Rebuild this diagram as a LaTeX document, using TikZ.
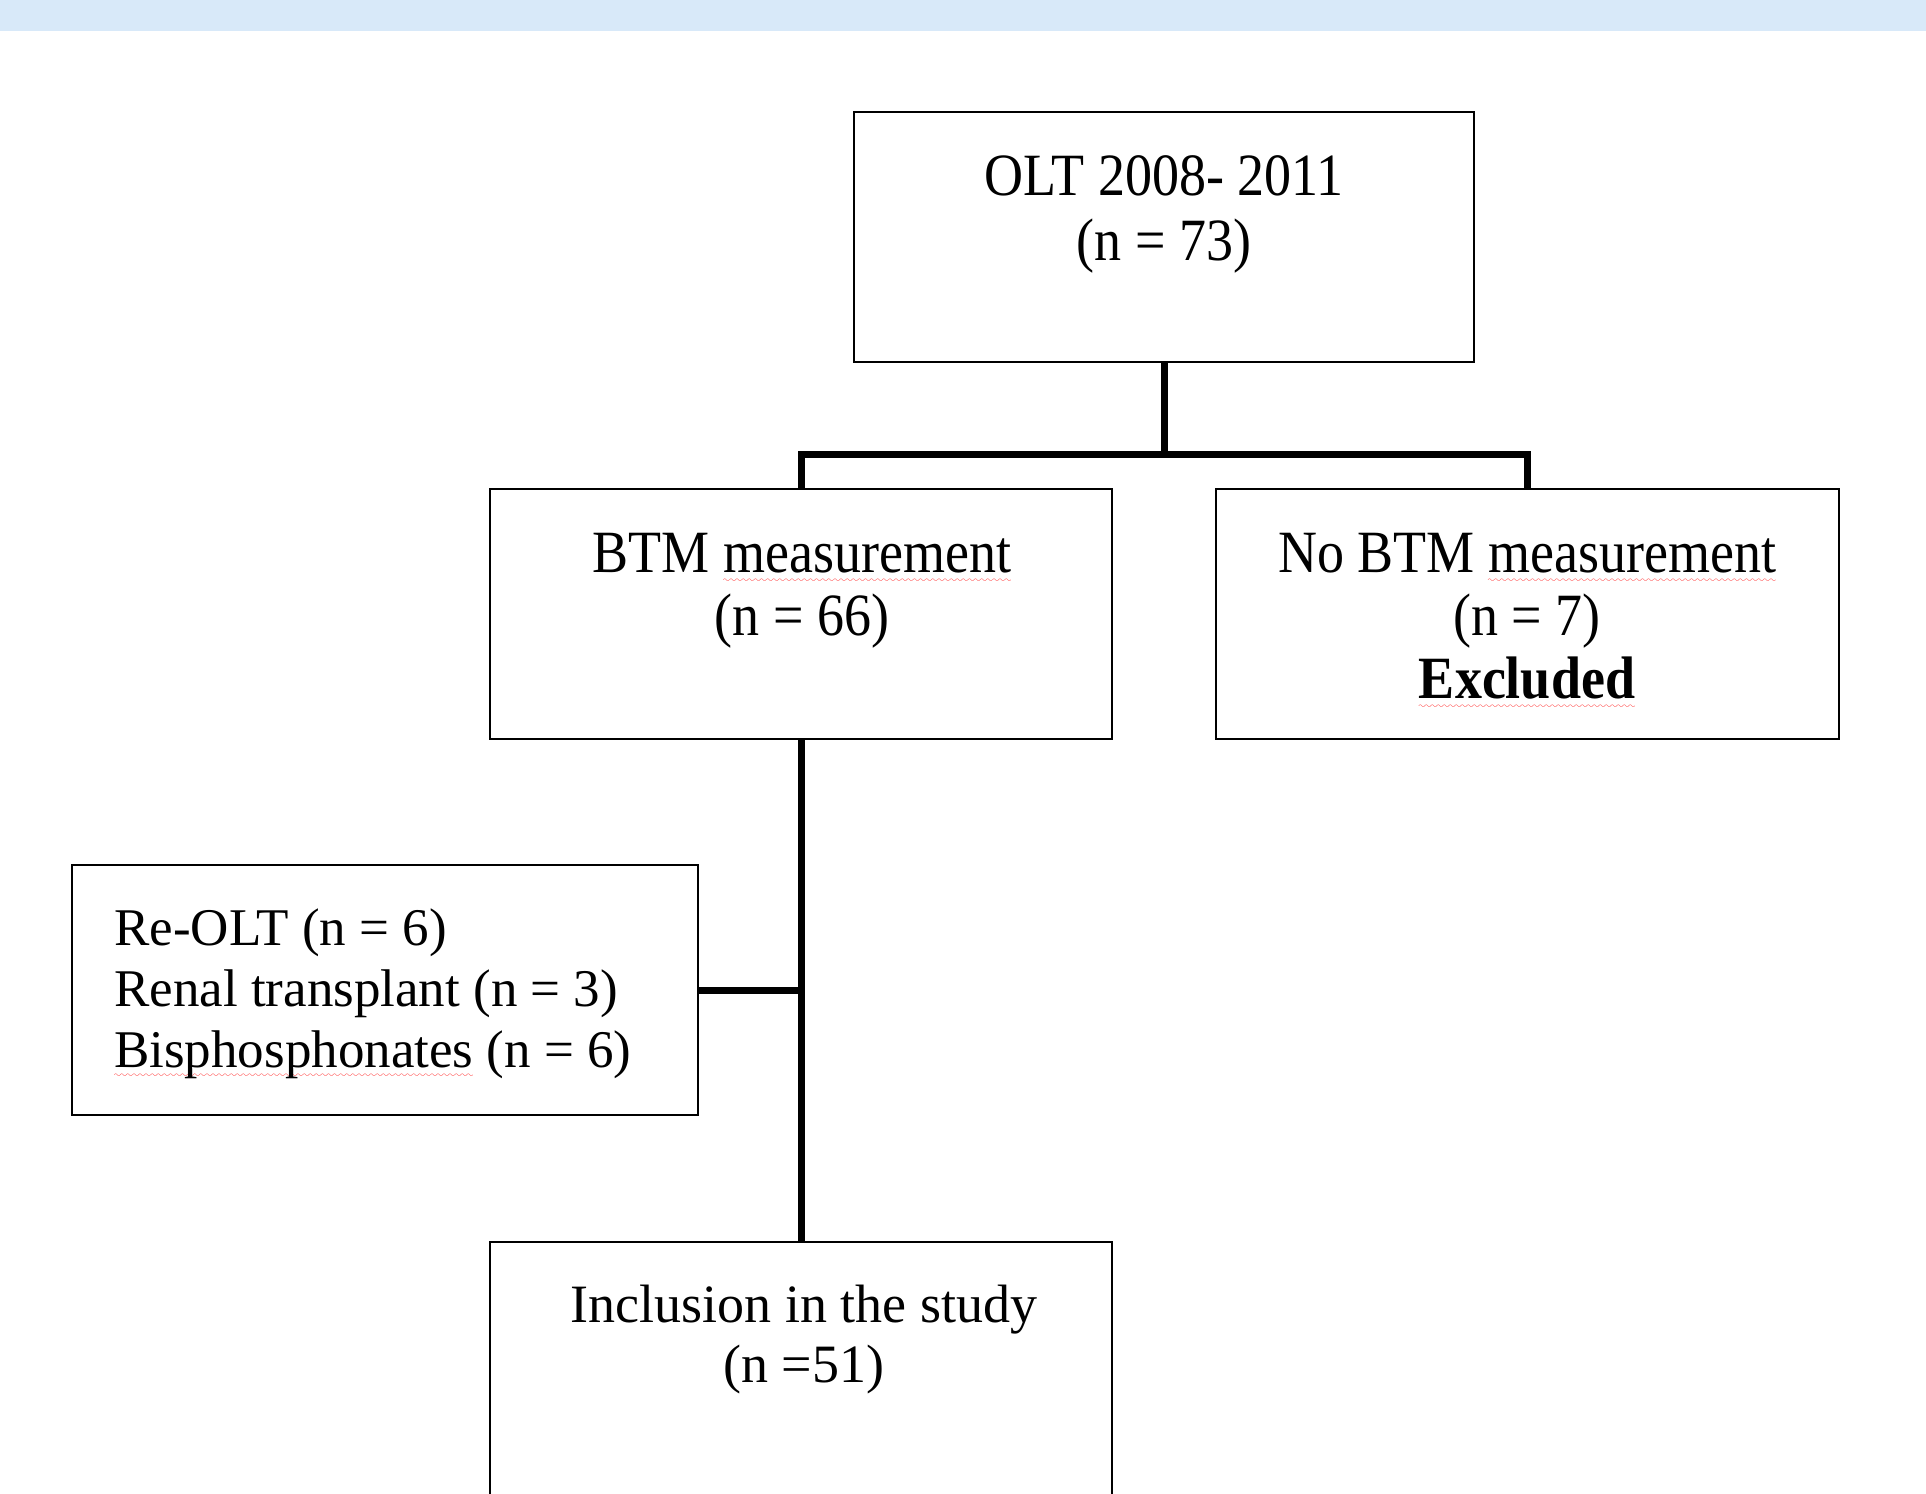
\documentclass[tikz,border=0pt]{standalone}
\usepackage{fontspec}
\setmainfont{Liberation Serif}
\newfontfamily\condfont{Liberation Serif}[FakeStretch=0.9]
\usepackage{xcolor}
\font\wavefont=lasy10 at 9pt
\newcommand\sq[1]{\setbox0\hbox{#1}\rlap{\textcolor{red}{\lower10pt\hbox to \wd0{\xleaders\hbox{\wavefont\char58}\hfil}}}\box0\relax}
\definecolor{bandblue}{HTML}{D8E9F9}
\tikzset{
  boxnode/.style={draw=black, line width=2.5pt, rectangle, inner sep=0pt, fill=white},
  conn/.style={draw=black, line width=7pt},
  txt/.style={inner sep=0pt, anchor=base}
}
\begin{document}
\begin{tikzpicture}[x=1pt, y=-1pt]
\useasboundingbox (0,0) rectangle (1926,1493);
\clip (0,0) rectangle (1926,1493);
\fill[white] (0,0) rectangle (1926,1493);
\fill[bandblue] (0,0) rectangle (1926,31);
% boxes
\node[boxnode, minimum width=620pt, minimum height=250pt] (b1) at (1164,237) {};
\node[boxnode, minimum width=622pt, minimum height=250pt] (b2) at (801,614) {};
\node[boxnode, minimum width=623pt, minimum height=250pt] (b3) at (1527.5,614) {};
\node[boxnode, minimum width=626pt, minimum height=250pt] (b4) at (385,990) {};
\node[boxnode, minimum width=622pt, minimum height=256pt] (b5) at (801,1370) {};
% texts
\node[txt] (t1) at (1164,195) {\condfont\fontsize{60}{65}\selectfont\begin{tabular}[t]{@{}c@{}}OLT 2008- 2011\\(n = 73)\end{tabular}};
\node[txt] (t2) at (802,572) {\condfont\fontsize{60}{63}\selectfont\begin{tabular}[t]{@{}c@{}}BTM \sq{measurement}\\(n = 66)\end{tabular}};
\node[txt] (t3) at (1527,572) {\condfont\fontsize{60}{63}\selectfont\begin{tabular}[t]{@{}c@{}}No BTM \sq{measurement}\\(n = 7)\\\textbf{\sq{Excluded}}\end{tabular}};
\node[txt, anchor=base west] (t4) at (114,945) {\fontsize{53}{61}\selectfont\begin{tabular}[t]{@{}l@{}}Re-OLT (n = 6)\\Renal transplant (n = 3)\\\sq{Bisphosphonates} (n = 6)\end{tabular}};
\node[txt] (t5) at (804,1322) {\fontsize{54}{60}\selectfont\begin{tabular}[t]{@{}c@{}}Inclusion in the study\\(n =51)\end{tabular}};
% connectors
\coordinate (j1) at (1164,454);
\draw[conn] (b1.south) -- (j1);
\draw[conn] (b2.north) |- (j1) -| (b3.north);
\draw[conn] (b2.south) -- (b5.north);
\coordinate (j2) at (b4.east -| b2.south);
\draw[conn] (b4.east) -- (j2);
\end{tikzpicture}
\end{document}
